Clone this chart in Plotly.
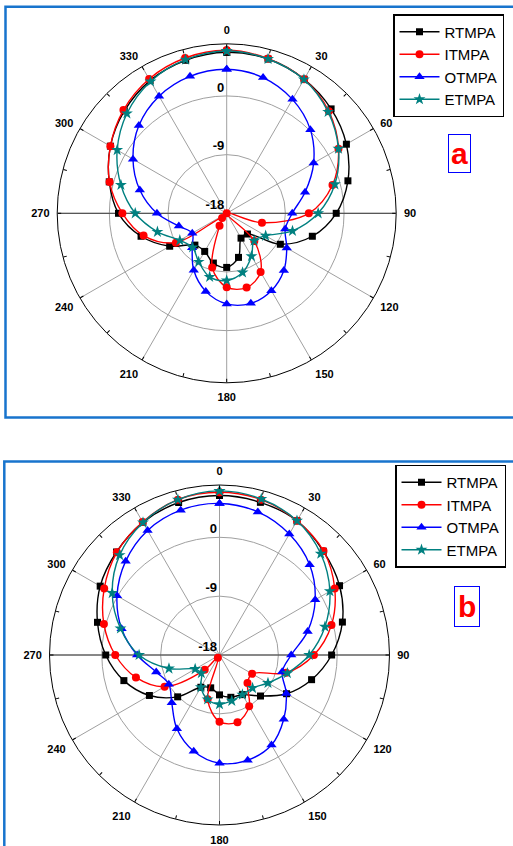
import plotly.graph_objects as go

# ---------------- data ----------------
theta = [0, 15, 30, 45, 60, 75, 90, 105, 120, 135, 150, 165,
         180, 195, 210, 225, 240, 255, 270, 285, 300, 315, 330, 345]
angle_ticks = [0, 30, 60, 90, 120, 150, 180, 210, 240, 270, 300, 330]
angle_labels = ["0", "30", "60", "90", "120", "150", "180", "210", "240", "270", "300", "330"]
minor_ticks = list(range(0, 360, 15))
axis_spokes = [90, 270]
radial_ticks = [-18, -9, 0]
radial_labels = ["-18", "-9", "0"]
series_names = ["RTMPA", "ITMPA", "OTMPA", "ETMPA"]

# panel (a)
rtmpa_a = [6.7, 6.5, 5.75, 4.65, 3.2, 1.25, -1.2, -4.4, -8.5, -13.5, -13.6, -11.0,
           -9.7, -10.1, -11.25, -11.1, -7.9, -4.4, -1.4, 0.65, 2.6, 4.2, 5.5, 6.3]
itmpa_a = [7.0, 6.57, 5.75, 4.15, 1.8, -1.2, -5.4, -12.4, -18.0, -12.0, -7.6, -6.2,
           -6.67, -9.4, -15.8, -17.0, -9.0, -4.8, -2.0, 0.6, 2.6, 4.4, 5.8, 6.66]
otmpa_a = [4.1, 3.56, 2.18, 0.15, -2.6, -5.56, -7.95, -8.7, -7.36, -5.6, -4.3, -3.7,
           -4.1, -5.6, -7.9, -10.5, -11.9, -10.4, -7.3, -4.2, -1.4, 1.05, 2.75, 3.75]
etmpa_a = [6.9, 6.5, 5.7, 4.0, 1.8, -0.82, -3.97, -7.55, -11.1, -12.05, -10.4, -8.6,
           -7.7, -7.9, -9.4, -10.6, -9.7, -7.0, -3.97, -1.2, 1.4, 3.65, 5.36, 6.4]

# panel (b)
rtmpa_b = [6.4, 6.17, 5.7, 4.45, 3.2, 1.46, -0.85, -3.42, -6.16, -9.13, -11.0, -11.3,
           -11.9, -12.8, -12.3, -8.95, -5.62, -2.86, -0.6, 1.32, 3.07, 4.28, 5.42, 6.15]
itmpa_b = [6.88, 6.6, 5.7, 4.5, 2.35, -0.27, -3.56, -7.45, -12.25, -11.95, -8.93, -7.37,
           -7.81, -11.0, -17.5, -14.8, -8.3, -4.77, -2.06, 0.3, 2.36, 4.2, 5.5, 6.6]
otmpa_b = [5.18, 4.66, 3.35, 1.5, -1.1, -4.05, -7.03, -8.07, -6.2, -4.1, -2.1, -1.35,
           -1.45, -2.77, -4.97, -7.67, -9.05, -7.98, -5.4, -2.5, 0.1, 2.3, 4.0, 4.93]
etmpa_b = [7.1, 6.7, 5.7, 3.9, 1.5, -1.3, -4.28, -7.25, -9.44, -10.85, -11.0, -10.75,
           -10.47, -10.97, -12.3, -14.07, -13.7, -10.0, -5.7, -2.32, 0.95, 3.6, 5.4, 6.6]

r_range = [-18, 8]

# ---------------- styles ----------------
colors = ["#000000", "#ff0000", "#0000ff", "#008080"]
symbols = ["square", "circle", "triangle-up", "star"]
msizes = [7, 8, 9, 9]
W, H = 513, 846
FONT = "Liberation Sans, Arial, sans-serif"

fig = go.Figure()


def closed(v):
    return list(v) + [v[0]]


# each panel: base polar (grid + labels), mid polar (dark 90/270 spoke),
# top polar (data + minor ticks)
panels = [
    ("polar", "polar2", "polar3", "legend", [rtmpa_a, itmpa_a, otmpa_a, etmpa_a]),
    ("polar4", "polar5", "polar6", "legend2", [rtmpa_b, itmpa_b, otmpa_b, etmpa_b]),
]
for base, mid, top, leg, data in panels:
    for sub in (base, mid):
        fig.add_trace(go.Scatterpolar(r=[None], theta=[None], subplot=sub,
                                      showlegend=False, hoverinfo="skip"))
    for name, vals, c, s, ms in zip(series_names, data, colors, symbols, msizes):
        fig.add_trace(go.Scatterpolar(
            r=closed(vals), theta=closed(theta), subplot=top, legend=leg,
            name=name, mode="lines+markers",
            line=dict(color=c, width=1.4, shape="spline"),
            marker=dict(symbol=s, size=ms, color=c, line=dict(width=0)),
            showlegend=True,
        ))


def base_polar(dom):
    return dict(
        domain=dom, bgcolor="white",
        angularaxis=dict(
            rotation=90, direction="clockwise",
            tickmode="array", tickvals=angle_ticks, ticktext=angle_labels,
            tickfont=dict(family=FONT, size=11, color="black", weight="bold"),
            showline=True, linecolor="black", linewidth=1,
            showgrid=True, gridcolor="#a0a0a0", gridwidth=1,
            ticks="outside", ticklen=5, tickcolor="rgba(0,0,0,0)",
        ),
        radialaxis=dict(
            range=r_range, angle=90, side="counterclockwise", tickangle=90,
            tickmode="array", tickvals=radial_ticks,
            ticktext=[t + "<br> " for t in radial_labels],
            tickfont=dict(family=FONT, size=13, color="black", weight="bold"),
            showline=False, ticks="",
            showgrid=True, gridcolor="#a0a0a0", gridwidth=1,
        ),
    )


def spoke_polar(dom):
    return dict(
        domain=dom, bgcolor="rgba(0,0,0,0)",
        angularaxis=dict(
            rotation=90, direction="clockwise",
            tickmode="array", tickvals=axis_spokes,
            showticklabels=False, ticks="", showline=False,
            showgrid=True, gridcolor="#404040", gridwidth=1,
        ),
        radialaxis=dict(visible=False, range=r_range),
    )


def data_polar(dom):
    return dict(
        domain=dom, bgcolor="rgba(0,0,0,0)",
        angularaxis=dict(
            rotation=90, direction="clockwise",
            tickmode="array", tickvals=minor_ticks,
            showticklabels=False, ticks="inside", ticklen=3.5, tickcolor="black",
            showline=False, showgrid=False,
        ),
        radialaxis=dict(visible=False, range=r_range),
    )


# panel geometry (pixels -> paper)
cxa, cya, ra = 226.7, 213.3, 169.5
cxb, cyb, rb = 219.5, 655.0, 170.0
dom_a = dict(x=[(cxa - ra) / W, (cxa + ra) / W], y=[1 - (cya + ra) / H, 1 - (cya - ra) / H])
dom_b = dict(x=[(cxb - rb) / W, (cxb + rb) / W], y=[1 - (cyb + rb) / H, 1 - (cyb - rb) / H])

legend_style = dict(
    xanchor="left", yanchor="top", bgcolor="white",
    bordercolor="black", borderwidth=1.5,
    font=dict(family=FONT, size=15, color="black"),
    itemwidth=40, tracegroupgap=0,
)

frame_color = "#1874cd"
fig.update_layout(
    width=W, height=H,
    margin=dict(l=0, r=0, t=0, b=0),
    paper_bgcolor="white",
    polar=base_polar(dom_a), polar2=spoke_polar(dom_a), polar3=data_polar(dom_a),
    polar4=base_polar(dom_b), polar5=spoke_polar(dom_b), polar6=data_polar(dom_b),
    legend=dict(x=393 / W, y=1 - 14 / H, **legend_style),
    legend2=dict(x=395 / W, y=1 - 464.5 / H, **legend_style),
    shapes=[
        dict(type="rect", xref="paper", yref="paper",
             x0=5.5 / W, x1=1.05, y0=1 - 417.5 / H, y1=1 - 6.8 / H,
             line=dict(color=frame_color, width=2.5)),
        dict(type="rect", xref="paper", yref="paper",
             x0=4.3 / W, x1=1.05, y0=-0.05, y1=1 - 461.5 / H,
             line=dict(color=frame_color, width=2.5)),
    ],
    annotations=[
        dict(text="a", xref="paper", yref="paper", x=459.7 / W, y=1 - 153.8 / H,
             xanchor="center", yanchor="middle", showarrow=False,
             font=dict(family=FONT, size=30, color="#ff0000", weight="bold"),
             bordercolor="#0000ff", borderwidth=1, borderpad=2, bgcolor="white"),
        dict(text="b", xref="paper", yref="paper", x=466.7 / W, y=1 - 606.2 / H,
             xanchor="center", yanchor="middle", showarrow=False,
             font=dict(family=FONT, size=30, color="#ff0000", weight="bold"),
             bordercolor="#0000ff", borderwidth=1, borderpad=3, bgcolor="white"),
    ],
)

fig.write_html("out.html")
